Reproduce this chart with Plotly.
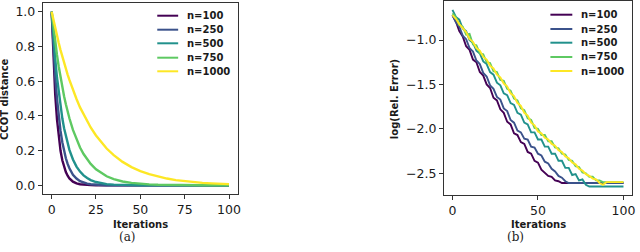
import plotly.graph_objects as go

# ---------------- data ----------------
series_names = ["n=100", "n=250", "n=500", "n=750", "n=1000"]
colors = ["#440154", "#3b528b", "#21918c", "#5ec962", "#fde725"]

# (a) CCOT distance vs iterations
iters_a = [0, 1, 2, 3, 4, 5, 6, 7, 8, 9, 10, 12, 14, 16, 18, 20, 22, 25, 28, 31,
           35, 40, 45, 50, 55, 60, 65, 70, 75, 80, 85, 90, 95, 100]
ccot_100 = [1.0, 0.724, 0.524, 0.380, 0.275, 0.199, 0.144, 0.105, 0.076, 0.055, 0.040,
            0.021, 0.011, 0.006, 0.003, 0.002, 0.001, 0.0005, 0.0003, 0.0001,
            0.0, 0.0, 0.0, 0.0, 0.0, 0.0, 0.0, 0.0, 0.0, 0.0, 0.0, 0.0, 0.0, 0.0]
ccot_250 = [1.0, 0.792, 0.628, 0.498, 0.394, 0.313, 0.248, 0.196, 0.156, 0.123, 0.098,
            0.061, 0.039, 0.024, 0.015, 0.0096, 0.006, 0.003, 0.0015, 0.0007,
            0.0003, 0.0001, 0.0, 0.0, 0.0, 0.0, 0.0, 0.0, 0.0, 0.0, 0.0, 0.0, 0.0, 0.0]
ccot_500 = [1.0, 0.853, 0.728, 0.621, 0.530, 0.452, 0.386, 0.329, 0.281, 0.240, 0.204,
            0.149, 0.108, 0.079, 0.057, 0.042, 0.030, 0.019, 0.012, 0.007,
            0.004, 0.0017, 0.0008, 0.0004, 0.0002, 0.0, 0.0, 0.0, 0.0, 0.0, 0.0, 0.0, 0.0, 0.0]
ccot_750 = [1.0, 0.909, 0.827, 0.751, 0.683, 0.621, 0.565, 0.513, 0.467, 0.424, 0.386,
            0.319, 0.264, 0.218, 0.180, 0.149, 0.123, 0.092, 0.070, 0.052,
            0.036, 0.022, 0.014, 0.0085, 0.0053, 0.0033, 0.002, 0.0013, 0.0008, 0.0005,
            0.0003, 0.0002, 0.0001, 0.0001]
ccot_1000 = [1.0, 0.951, 0.905, 0.861, 0.819, 0.779, 0.741, 0.705, 0.670, 0.638, 0.607,
             0.549, 0.497, 0.449, 0.407, 0.368, 0.333, 0.287, 0.247, 0.212,
             0.174, 0.135, 0.105, 0.082, 0.064, 0.050, 0.039, 0.030, 0.024, 0.018,
             0.014, 0.011, 0.0087, 0.0068]

# (b) log relative error vs iterations (every 2nd iteration)
iters_b = list(range(0, 101, 2))
err_100 = [-0.72, -0.79, -0.90, -0.96, -1.07, -1.11, -1.22, -1.25, -1.36, -1.40,
           -1.50, -1.54, -1.65, -1.68, -1.78, -1.82, -1.92, -1.95, -2.05, -2.07,
           -2.15, -2.17, -2.26, -2.28, -2.36, -2.38, -2.46, -2.49, -2.53, -2.54,
           -2.58, -2.59, -2.61, -2.61, -2.61, -2.61, -2.61, -2.61, -2.61, -2.61,
           -2.61, -2.61, -2.61, -2.61, -2.61, -2.61, -2.61, -2.61, -2.61, -2.61, -2.61]
err_250 = [-0.72, -0.80, -0.85, -0.95, -0.99, -1.09, -1.13, -1.23, -1.27, -1.37,
           -1.41, -1.51, -1.55, -1.64, -1.67, -1.77, -1.80, -1.90, -1.93, -2.02,
           -2.04, -2.11, -2.12, -2.20, -2.21, -2.28, -2.30, -2.37, -2.39, -2.45,
           -2.48, -2.53, -2.55, -2.59, -2.61, -2.61, -2.61, -2.61, -2.61, -2.61,
           -2.61, -2.61, -2.61, -2.61, -2.61, -2.61, -2.61, -2.61, -2.61, -2.61, -2.61]
err_500 = [-0.66, -0.74, -0.77, -0.87, -0.90, -1.00, -1.03, -1.12, -1.15, -1.24,
           -1.27, -1.36, -1.39, -1.48, -1.51, -1.60, -1.62, -1.71, -1.73, -1.82,
           -1.84, -1.93, -1.95, -2.04, -2.04, -2.12, -2.12, -2.20, -2.20, -2.28,
           -2.28, -2.36, -2.36, -2.44, -2.44, -2.52, -2.51, -2.58, -2.57, -2.63,
           -2.65, -2.65, -2.65, -2.65, -2.65, -2.65, -2.65, -2.65, -2.65, -2.65, -2.65]
err_750 = [-0.70, -0.74, -0.83, -0.85, -0.94, -0.93, -1.05, -1.06, -1.15, -1.16,
           -1.25, -1.26, -1.35, -1.36, -1.45, -1.46, -1.55, -1.57, -1.66, -1.68,
           -1.77, -1.79, -1.88, -1.90, -1.99, -2.00, -2.07, -2.07, -2.14, -2.14,
           -2.21, -2.22, -2.28, -2.29, -2.35, -2.36, -2.42, -2.43, -2.49, -2.50,
           -2.54, -2.54, -2.58, -2.58, -2.60, -2.60, -2.60, -2.60, -2.60, -2.60, -2.60]
err_1000 = [-0.72, -0.76, -0.82, -0.87, -0.91, -0.99, -1.02, -1.09, -1.12, -1.19,
            -1.22, -1.29, -1.32, -1.39, -1.42, -1.49, -1.52, -1.60, -1.63, -1.71,
            -1.74, -1.82, -1.85, -1.93, -1.96, -2.03, -2.05, -2.10, -2.12, -2.17,
            -2.19, -2.24, -2.26, -2.31, -2.33, -2.38, -2.40, -2.45, -2.47, -2.51,
            -2.53, -2.56, -2.57, -2.61, -2.63, -2.60, -2.60, -2.60, -2.60, -2.60, -2.60]

xticks_a = [0, 25, 50, 75, 100]
yticks_a = [0.0, 0.2, 0.4, 0.6, 0.8, 1.0]
xticks_b = [0, 50, 100]
yticks_b = [-2.5, -2.0, -1.5, -1.0]

ccot = [ccot_100, ccot_250, ccot_500, ccot_750, ccot_1000]
errs = [err_100, err_250, err_500, err_750, err_1000]

# ---------------- figure ----------------
W, H = 640, 252
FONT = "DejaVu Sans"
TXT = "#1a1a1a"

fig = go.Figure()
for name, col, ys in zip(series_names, colors, ccot):
    fig.add_trace(go.Scatter(x=iters_a, y=ys, mode="lines", name=name,
                             line=dict(color=col, width=2.4), showlegend=False,
                             xaxis="x", yaxis="y"))
for name, col, ys in zip(series_names, colors, errs):
    fig.add_trace(go.Scatter(x=iters_b, y=ys, mode="lines", name=name,
                             line=dict(color=col, width=1.9), showlegend=False,
                             xaxis="x2", yaxis="y2"))

def px(x):
    return x / W

def py(y):
    return 1 - y / H

axis_common = dict(showgrid=False, zeroline=False, showline=True, mirror=True,
                   linecolor="#333333", linewidth=1, ticks="outside", ticklen=4,
                   tickwidth=1, tickcolor="#333333",
                   tickfont=dict(family=FONT, size=12.5, color=TXT))

fig.update_layout(
    width=W, height=H, margin=dict(l=0, r=0, t=0, b=0),
    paper_bgcolor="white", plot_bgcolor="white",
    xaxis=dict(domain=[px(43), px(239)], range=[-5, 105], tickvals=xticks_a,
               anchor="y", **axis_common),
    yaxis=dict(domain=[py(194), py(3)], range=[-0.05, 1.05], tickvals=yticks_a,
               tickformat=".1f", anchor="x", **axis_common),
    xaxis2=dict(domain=[px(446), px(635)], range=[-5, 105], tickvals=xticks_b,
                anchor="y2", **axis_common),
    yaxis2=dict(domain=[py(195), py(1)], range=[-2.745, -0.56], tickvals=yticks_b,
                tickformat=".1f", anchor="x2", **axis_common),
)

shapes = []
annotations = []

# legends
leg_a_y = [15.7, 29.7, 43.3, 57.7, 71.3]
leg_b_y = [14.7, 29.0, 42.7, 57.0, 71.0]
for (x0, x1, xt, ys) in [(158, 179, 186, leg_a_y), (553, 575, 582, leg_b_y)]:
    for name, col, y in zip(series_names, colors, ys):
        shapes.append(dict(type="line", xref="paper", yref="paper",
                           x0=px(x0), x1=px(x1), y0=py(y), y1=py(y),
                           line=dict(color=col, width=2)))
        annotations.append(dict(text="<b>%s</b>" % name, xref="paper", yref="paper",
                                x=px(xt), y=py(y), xanchor="left", yanchor="middle",
                                showarrow=False,
                                font=dict(family=FONT, size=10, color=TXT)))

# axis titles
annotations += [
    dict(text="<b>Iterations</b>", xref="paper", yref="paper", x=px(141), y=py(224),
         xanchor="center", yanchor="middle", showarrow=False,
         font=dict(family=FONT, size=10, color=TXT)),
    dict(text="<b>Iterations</b>", xref="paper", yref="paper", x=px(541), y=py(224),
         xanchor="center", yanchor="middle", showarrow=False,
         font=dict(family=FONT, size=10, color=TXT)),
    dict(text="<b>CCOT distance</b>", xref="paper", yref="paper", x=px(5), y=py(99),
         xanchor="center", yanchor="middle", showarrow=False, textangle=-90,
         font=dict(family=FONT, size=10, color=TXT)),
    dict(text="<b>log(Rel. Error)</b>", xref="paper", yref="paper", x=px(397), y=py(99),
         xanchor="center", yanchor="middle", showarrow=False, textangle=-90,
         font=dict(family=FONT, size=10, color=TXT)),
    dict(text="(a)", xref="paper", yref="paper", x=px(128), y=py(237),
         xanchor="center", yanchor="middle", showarrow=False,
         font=dict(family="DejaVu Serif", size=12, color=TXT)),
    dict(text="(b)", xref="paper", yref="paper", x=px(518), y=py(237),
         xanchor="center", yanchor="middle", showarrow=False,
         font=dict(family="DejaVu Serif", size=12, color=TXT)),
]

fig.update_layout(shapes=shapes, annotations=annotations)
fig.write_html("out.html",
               config={"displayModeBar": False},
               post_script="document.body.style.margin='0px';"
                           "document.body.style.overflow='hidden';")
